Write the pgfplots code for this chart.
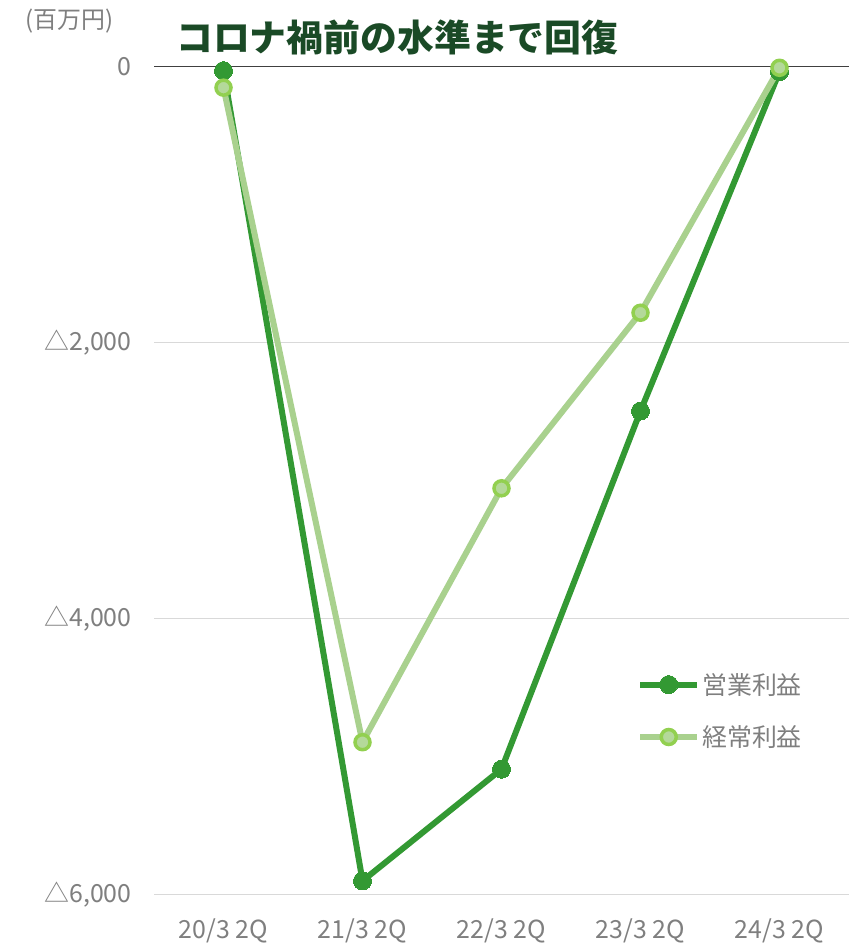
\documentclass[border=0pt]{standalone}
\usepackage{fontspec}
\setmainfont{Noto Sans CJK JP}
\usepackage{pgfplots}
\pgfplotsset{compat=1.18}
\definecolor{dkg}{HTML}{339933}
\definecolor{ltl}{HTML}{A9D18E}
\definecolor{ltm}{HTML}{92D050}
\definecolor{ltin}{HTML}{B4D99A}
\definecolor{ttl}{HTML}{1A4A26}
\definecolor{tk}{HTML}{7F7F7F}
\definecolor{gr}{HTML}{D9D9D9}
\begin{document}
\begin{tikzpicture}[x=1bp,y=1bp]
\useasboundingbox (0,0) rectangle (851,945);
\begin{axis}[
  at={(154bp,50.3bp)}, anchor=south west,
  scale only axis, width=695bp, height=828bp,
  xmin=-0.5, xmax=4.5, ymin=-6000, ymax=0,
  clip=false,
  axis line style={draw=none},
  xtick={0,1,2,3,4},
  xticklabels={20/3 2Q,21/3 2Q,22/3 2Q,23/3 2Q,24/3 2Q},
  ytick={-6000,-4000,-2000,0},
  yticklabels={{△6,000},{△4,000},{△2,000},{0}},
  major tick length=0pt,
  ymajorgrids, grid style={gr, line width=1.5bp},
  /pgf/number format/assume math mode=true,
  tick label style={font=\fontsize{25}{28}\selectfont, text=tk},
  xticklabel style={yshift=-21bp},
  yticklabel style={xshift=-19bp},
  legend cell align=left,
  legend style={draw=none, fill=none, at={(0.695,0.27)}, anchor=north west,
    font=\fontsize{25}{28}\selectfont, text=tk, row sep=26bp,
    inner sep=0pt},
  legend image code/.code={
    \draw[#1] (0bp,0bp) -- (57bp,0bp);
    \path[#1] plot[only marks] coordinates {(28.5bp,0bp)};
  },
]
\draw[color=black!75, line width=1.6bp] (axis cs:-0.5,0) -- (axis cs:4.5,0);
\addplot[dkg, line width=6bp, mark=*, mark size=9bp,
  mark options={fill=dkg, draw=dkg, line width=0bp}]
  coordinates {(0,-29) (1,-5900) (2,-5090) (3,-2495) (4,-36)};
\addlegendentry{営業利益}
\addplot[ltl, line width=6bp, mark=*, mark size=7.5bp,
  mark options={fill=ltin, draw=ltm, line width=3.5bp}]
  coordinates {(0,-152) (1,-4895) (2,-3055) (3,-1783) (4,-8)};
\addlegendentry{経常利益}
\end{axis}
\node[anchor=west, text=tk, font=\fontsize{24}{26}\selectfont] at (22,924) {(百万円)};
\node[anchor=west, text=ttl, font=\fontsize{37}{40}\selectfont\bfseries, inner sep=0pt] at (176,908) {コロナ禍前の水準まで回復};
\end{tikzpicture}
\end{document}
